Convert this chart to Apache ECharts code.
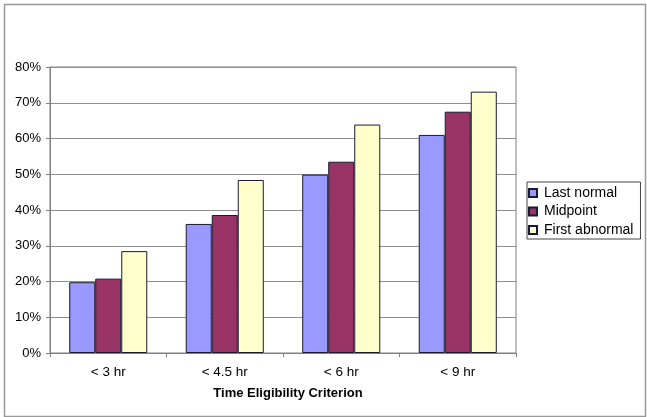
<!DOCTYPE html>
<html><head><meta charset="utf-8">
<script src="https://cdn.jsdelivr.net/npm/echarts@6/dist/echarts.min.js"></script>
<style>html,body{margin:0;padding:0;background:#fff}#c{width:647px;height:417px}</style>
</head><body><div id="c"></div>
<script>
const categories = ['< 3 hr', '< 4.5 hr', '< 6 hr', '< 9 hr'];
const lastNormal = [19.8, 36.1, 49.9, 61.0];
const midpoint = [20.8, 38.6, 53.5, 67.5];
const firstAbnormal = [28.5, 48.4, 63.9, 73.1];
const yTicks = [0, 10, 20, 30, 40, 50, 60, 70, 80];

const chart = echarts.init(document.getElementById('c'), null, {renderer: 'canvas'});
const font = 'Liberation Sans, Arial, sans-serif';
const barStyle = (c) => ({color: c, borderColor: '#1a1a30', borderWidth: 1});
chart.setOption({
  animation: false,
  backgroundColor: '#fff',
  textStyle: {fontFamily: font},
  graphic: [{type: 'rect', left: 2, top: 2, shape: {x: 0, y: 0, width: 641, height: 412}, style: {fill: 'none', stroke: '#999', lineWidth: 1.5}, silent: true}],
  grid: {left: 50, right: 131, top: 67, bottom: 64, containLabel: false, show: true, borderColor: '#808080', borderWidth: 1},
  legend: {
    orient: 'vertical', left: 527, top: 182,
    data: ['Last normal', 'Midpoint', 'First abnormal'],
    itemWidth: 8, itemHeight: 8, itemGap: 4.5,
    padding: [4, 7, 2, 1],
    borderColor: '#444', borderWidth: 1,
    icon: 'rect',
    textStyle: {fontFamily: font, fontSize: 14, color: '#000', padding: [0, 0, 0, 2]}
  },
  xAxis: {
    type: 'category', data: categories,
    name: 'Time Eligibility Criterion', nameLocation: 'middle', nameGap: 34,
    nameTextStyle: {fontFamily: font, fontSize: 13, fontWeight: 'bold', color: '#000', padding: [0, 0, 0, 10]},
    axisLine: {lineStyle: {color: '#808080', width: 1}},
    axisTick: {show: true, length: 4, lineStyle: {color: '#808080'}},
    axisLabel: {fontFamily: font, fontSize: 13.5, color: '#000', margin: 12}
  },
  yAxis: {
    type: 'value', min: 0, max: 80, interval: 10,
    axisLine: {show: true, lineStyle: {color: '#808080', width: 1}},
    axisTick: {show: true, length: 4, lineStyle: {color: '#808080'}},
    splitLine: {lineStyle: {color: '#909090', width: 1}},
    axisLabel: {fontFamily: font, fontSize: 13, color: '#000', margin: 9,
      formatter: v => yTicks.includes(v) ? v + '%' : ''}
  },
  series: [
    {name: 'Last normal', type: 'bar', data: lastNormal, barGap: '0%', barCategoryGap: '33%', itemStyle: barStyle('#9999FF')},
    {name: 'Midpoint', type: 'bar', data: midpoint, itemStyle: barStyle('#993366')},
    {name: 'First abnormal', type: 'bar', data: firstAbnormal, itemStyle: barStyle('#FFFFCC')}
  ]
});
</script></body></html>
